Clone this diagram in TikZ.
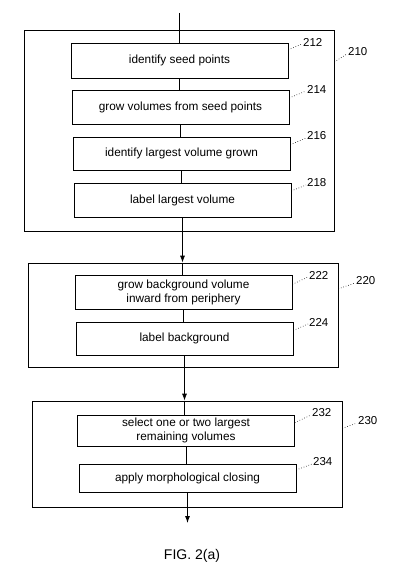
\documentclass[tikz,border=0pt]{standalone}
\usepackage{fontspec}
\setmainfont{Liberation Sans}
\usetikzlibrary{arrows.meta,calc}
\tikzset{
  stepbox/.style={draw, line width=0.8bp, inner sep=0pt, minimum width=217bp, align=center, font=\fontsize{11.8bp}{14bp}\selectfont},
  outerbox/.style={draw, line width=0.8bp, inner sep=0pt, minimum width=310bp},
  refnum/.style={anchor=west, inner sep=0pt, font=\fontsize{11.5bp}{13bp}\selectfont},
  leader/.style={dotted, line width=0.6bp},
  conn/.style={line width=0.8bp},
  arr/.style={line width=0.8bp, -{Latex[length=7bp,width=5bp]}}
}
\begin{document}
\begin{tikzpicture}[x=1bp,y=-1bp]
\useasboundingbox (0,0) rectangle (400,576);
% outer boxes
\node[outerbox, minimum height=201bp] (o210) at (179,130.5) {};
\node[outerbox, minimum height=104bp] (o220) at (183,315) {};
\node[outerbox, minimum height=106bp] (o230) at (187,454) {};
% step boxes
\node[stepbox, minimum height=35bp] (b212) at (179.5,60.5) {identify seed points};
\node[stepbox, minimum height=34bp] (b214) at (180.5,107) {grow volumes from seed points};
\node[stepbox, minimum height=33bp] (b216) at (181.5,153.5) {identify largest volume grown};
\node[stepbox, minimum height=34bp] (b218) at (182.5,200) {label largest volume};
\node[stepbox, minimum height=34bp] (b222) at (183.5,292) {grow background volume\\inward from periphery};
\node[stepbox, minimum height=33bp] (b224) at (184.5,338.5) {label background};
\node[stepbox, minimum height=31bp] (b232) at (186,430.5) {select one or two largest\\remaining volumes};
\node[stepbox, minimum height=28bp] (b234) at (187.5,478) {apply morphological closing};
% connectors
\coordinate (top) at (179.5,13);
\coordinate (bot) at (187.5,523);
\draw[conn] (top) -- (top |- b212.north);
\draw[conn] (b212.south) -- (b212.south |- b214.north);
\draw[conn] (b214.south) -- (b214.south |- b216.north);
\draw[conn] (b216.south) -- (b216.south |- b218.north);
\draw[arr] (b218.south) -- (b218.south |- o220.north);
\draw[conn] (b218.south |- o220.north) -- (b218.south |- b222.north);
\draw[conn] (b222.south) -- (b222.south |- b224.north);
\draw[arr] (b224.south) -- (b224.south |- o230.north);
\draw[conn] (b224.south |- o230.north) -- (b224.south |- b232.north);
\draw[conn] (b232.south) -- (b232.south |- b234.north);
\draw[arr] (b234.south) -- (bot);
% reference numerals
\node[refnum] (l210) at (348,52) {210};
\node[refnum] (l212) at (303,42) {212};
\node[refnum] (l214) at (307,89) {214};
\node[refnum] (l216) at (307,136) {216};
\node[refnum] (l218) at (307,183) {218};
\node[refnum] (l220) at (356,281) {220};
\node[refnum] (l222) at (309,275) {222};
\node[refnum] (l224) at (309,322) {224};
\node[refnum] (l230) at (358,421) {230};
\node[refnum] (l232) at (312,413) {232};
\node[refnum] (l234) at (313,462) {234};
% leaders
\draw[leader] ($(o210.north east)!0.16!(o210.south east)$) -- ($(l210.west)+(-1,2)$);
\draw[leader] ($(b212.north east)!0.2!(b212.south east)$) -- ($(l212.west)+(-1,2)$);
\draw[leader] ($(b214.north east)!0.24!(b214.south east)$) -- ($(l214.west)+(-1,2)$);
\draw[leader] ($(b216.north east)!0.24!(b216.south east)$) -- ($(l216.west)+(-1,2)$);
\draw[leader] ($(b218.north east)!0.24!(b218.south east)$) -- ($(l218.west)+(-1,2)$);
\draw[leader] ($(o220.north east)!0.25!(o220.south east)$) -- ($(l220.west)+(-1,2)$);
\draw[leader] ($(b222.north east)!0.28!(b222.south east)$) -- ($(l222.west)+(-1,2)$);
\draw[leader] ($(b224.north east)!0.26!(b224.south east)$) -- ($(l224.west)+(-1,2)$);
\draw[leader] ($(o230.north east)!0.26!(o230.south east)$) -- ($(l230.west)+(-1,2)$);
\draw[leader] ($(b232.north east)!0.25!(b232.south east)$) -- ($(l232.west)+(-1,2)$);
\draw[leader] ($(b234.north east)!0.22!(b234.south east)$) -- ($(l234.west)+(-1,2)$);
% caption
\node[font=\fontsize{14bp}{16bp}\selectfont] (cap) at (192,556) {FIG. 2(a)};
\end{tikzpicture}
\end{document}
